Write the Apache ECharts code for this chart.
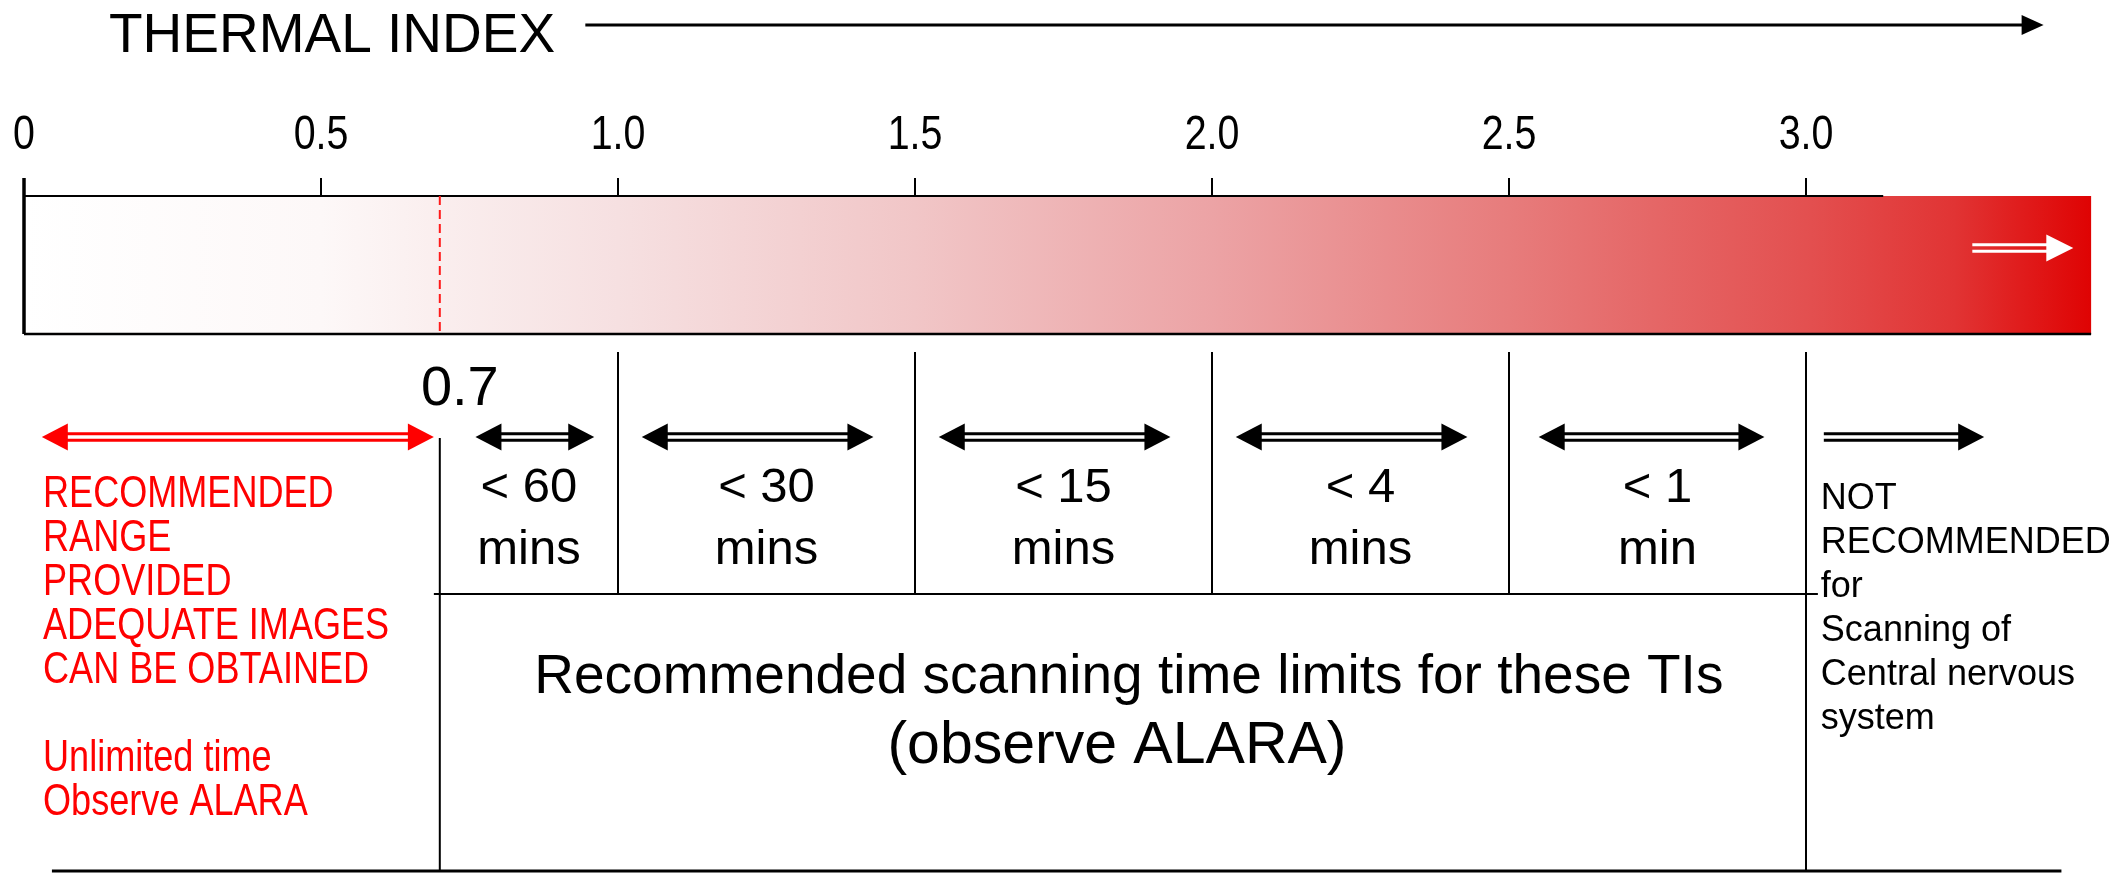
<!DOCTYPE html>
<html><head><meta charset="utf-8">
<script src="https://cdn.jsdelivr.net/npm/echarts@6/dist/echarts.min.js"></script>
<style>html,body{margin:0;padding:0;background:#fff}#c{width:2127px;height:873px}</style>
</head><body><div id="c"></div>
<script>
// ---------------- data ----------------
const titleText = 'THERMAL INDEX';
const tiTicks = [0, 0.5, 1.0, 1.5, 2.0, 2.5, 3.0];
const scaleEnd = 3.48;            // right end of the TI colour bar
const topBorderEnd = 3.13;        // where the bar's top border stops
const limitTI = 0.7;              // end of the recommended range
const bandEdges = [0.7, 1.0, 1.5, 2.0, 2.5, 3.0];
const timeLimits = ['< 60\nmins', '< 30\nmins', '< 15\nmins', '< 4\nmins', '< 1\nmin'];
const limitArrowStart = [0.76, 1.04, 1.54, 2.04, 2.55];
const limitArrowEnd = [0.96, 1.43, 1.93, 2.43, 2.93];
const recommendedArrow = [0.03, 0.69];
const beyondArrow = [3.03, 3.30];
const barArrow = [3.28, 3.45];
const titleArrow = [0.945, 3.40];
const gradientTI = [0, 0.5, 0.7, 1.0, 1.5, 2.0, 2.5, 3.0, 3.25, 3.48];
const gradientColors = ['#ffffff', '#fdf8f8', '#faeeee', '#f6e0e1', '#f1c6c7', '#eca3a5', '#e77c7c', '#e35050', '#e13434', '#df0303'];
const leftText = 'RECOMMENDED\nRANGE\nPROVIDED\nADEQUATE IMAGES\nCAN BE OBTAINED\n\nUnlimited time\nObserve ALARA';
const rightText = 'NOT\nRECOMMENDED\nfor\nScanning of\nCentral nervous\nsystem';
const centreText1 = 'Recommended scanning time limits for these TIs';
const centreText2 = '(observe ALARA)';
const midBandLine = [0.69, 3.02];
const bottomLineSpan = [0.047, 3.43];

// ---------------- layout (pixels) ----------------
const REG = '"Liberation Sans", Arial, Helvetica, sans-serif';
function hasFont(name) {
  const c = document.createElement('canvas').getContext('2d');
  c.font = '48px monospace';
  const a = c.measureText('RECOMMENDED 0.5 mins').width;
  c.font = '48px "' + name + '", monospace';
  const b = c.measureText('RECOMMENDED 0.5 mins').width;
  return Math.abs(a - b) > 0.5;
}
const HAS_NARROW = hasFont('Liberation Sans Narrow');
const NARROW = HAS_NARROW ? '"Liberation Sans Narrow", "Arial Narrow", sans-serif' : REG;
const NARROW_SX = HAS_NARROW ? 1 : 0.82;

const Y = {
  barTop: 196, barBottom: 334, tickTop: 178,
  sepTop: 352, midLine: 594, bottomLine: 871, limitLineTop: 438,
  arrowY: 437, barArrowY: 248, titleArrowY: 25, tickLabel: 136,
  limitLabel: 390, durLabel: 519, centre1: 678, centre2: 747,
  leftBlock: 649, rightBlock: 609
};

const chart = echarts.init(document.getElementById('c'), null, {renderer: 'canvas'});

// segments: [x1, y1, x2, y2, style]
const segs = [];
const solid = (w) => ({stroke: '#000', lineWidth: w});
segs.push([0, Y.barTop, topBorderEnd, Y.barTop, solid(2)]);
segs.push([0, Y.barBottom, scaleEnd, Y.barBottom, solid(2.5)]);
segs.push([0, Y.tickTop, 0, Y.barBottom, solid(3.5)]);
segs.push([limitTI, Y.barTop, limitTI, Y.barBottom, {stroke: '#ff1a1a', lineWidth: 2, lineDash: [9, 5]}]);
bandEdges.forEach(function (e) {
  if (e === limitTI) segs.push([e, Y.limitLineTop, e, Y.bottomLine, solid(2)]);
  else if (e === 3.0) segs.push([e, Y.sepTop, e, Y.bottomLine, solid(2)]);
  else segs.push([e, Y.sepTop, e, Y.midLine, solid(2)]);
});
segs.push([midBandLine[0], Y.midLine, midBandLine[1], Y.midLine, solid(2)]);
segs.push([bottomLineSpan[0], Y.bottomLine, bottomLineSpan[1], Y.bottomLine, solid(3)]);

// arrows: [x1, x2, y, kind]
const arrows = [];
limitArrowStart.forEach(function (s, i) { arrows.push([s, limitArrowEnd[i], Y.arrowY, 'black2']); });
arrows.push([recommendedArrow[0], recommendedArrow[1], Y.arrowY, 'red2']);
arrows.push([beyondArrow[0], beyondArrow[1], Y.arrowY, 'black1']);
arrows.push([barArrow[0], barArrow[1], Y.barArrowY, 'white1']);
arrows.push([titleArrow[0], titleArrow[1], Y.titleArrowY, 'title']);
const arrowStyles = {
  black2: {color: '#000', both: true, double: true, headLen: 26, headHalf: 13.5},
  red2: {color: '#ff0000', both: true, double: true, headLen: 26, headHalf: 13.5},
  black1: {color: '#000', both: false, double: true, headLen: 26, headHalf: 13.5},
  white1: {color: '#ffffff', both: false, double: true, headLen: 27, headHalf: 13.5},
  title: {color: '#000', both: false, double: false, headLen: 22, headHalf: 10, width: 3}
};

// text items: [x(TI), y(px), text, fontSize, lineHeight, align, color, family, scaleX, dx]
const texts = [];
if (!HAS_NARROW) {
  tiTicks.forEach(function (t) {
    texts.push([t, Y.tickLabel, t === 0 ? '0' : t.toFixed(1), 48, 48, 'center', '#000', NARROW, NARROW_SX, 0]);
  });
}
texts.push([limitTI, Y.limitLabel, '0.7', 56, 56, 'center', '#000', REG, 1, 20]);
timeLimits.forEach(function (t, i) {
  const c = (bandEdges[i] + bandEdges[i + 1]) / 2;
  texts.push([c, Y.durLabel, t, 49, 62, 'center', '#000', REG, 1, 0]);
});
texts.push([1.86, Y.centre1, centreText1, 55, 55, 'center', '#000', REG, 1, 0]);
texts.push([1.84, Y.centre2, centreText2, 59, 59, 'center', '#000', REG, 1, 0]);
texts.push([0.032, Y.leftBlock, leftText, 44, 44, 'left', '#ff0000', NARROW, NARROW_SX, 0]);
texts.push([3.025, Y.rightBlock, rightText, 36, 44, 'left', '#000', REG, 1, 0]);

const stops = gradientTI.map(function (t, i) { return {offset: t / scaleEnd, color: gradientColors[i]}; });

chart.setOption({
  animation: false,
  backgroundColor: '#ffffff',
  title: {
    text: titleText, left: 104, top: 4,
    textStyle: {fontSize: 55, fontWeight: 'normal', color: '#000', fontFamily: REG}
  },
  grid: {left: 24, right: 24, top: 0, bottom: 0, containLabel: false},
  xAxis: {
    type: 'value', min: 0, max: 3.5, interval: 0.5, position: 'top', offset: -Y.barTop,
    axisLine: {show: false, onZero: false},
    splitLine: {show: false},
    axisTick: {show: true, inside: false, length: 18, customValues: tiTicks, lineStyle: {color: '#000', width: 2}},
    axisLabel: {
      show: HAS_NARROW, customValues: tiTicks, margin: 30, fontSize: 48, color: '#000', fontFamily: NARROW,
      formatter: function (v) { return v === 0 ? '0' : v.toFixed(1); }
    }
  },
  yAxis: {type: 'value', min: 0, max: 873, inverse: true, show: false},
  series: [
    {
      type: 'custom', name: 'bar', silent: true, z: 1,
      data: [[0, scaleEnd]],
      renderItem: function (params, api) {
        const p0 = api.coord([api.value(0), Y.barTop]);
        const p1 = api.coord([api.value(1), Y.barBottom]);
        return {type: 'rect', shape: {x: p0[0], y: p0[1], width: p1[0] - p0[0], height: p1[1] - p0[1]},
          style: {fill: new echarts.graphic.LinearGradient(0, 0, 1, 0, stops)}};
      }
    },
    {
      type: 'custom', name: 'lines', silent: true, z: 3,
      data: segs.map(function (s) { return s.slice(0, 4); }),
      renderItem: function (params, api) {
        const s = segs[params.dataIndex];
        const a = api.coord([s[0], s[1]]), b = api.coord([s[2], s[3]]);
        return {type: 'line', shape: {x1: a[0], y1: a[1], x2: b[0], y2: b[1]}, style: Object.assign({fill: null}, s[4])};
      }
    },
    {
      type: 'custom', name: 'arrows', silent: true, z: 4,
      data: arrows.map(function (a) { return a.slice(0, 3); }),
      renderItem: function (params, api) {
        const a = arrows[params.dataIndex];
        const st = arrowStyles[a[3]];
        const p0 = api.coord([a[0], a[2]]), p1 = api.coord([a[1], a[2]]);
        const y = p0[1];
        const x0 = p0[0], x1 = p1[0];
        const children = [];
        const sx0 = st.both ? x0 + st.headLen - 2 : x0;
        const sx1 = x1 - st.headLen + 2;
        if (st.double) {
          children.push({type: 'line', shape: {x1: sx0, y1: y - 3.2, x2: sx1, y2: y - 3.2}, style: {stroke: st.color, lineWidth: 3}});
          children.push({type: 'line', shape: {x1: sx0, y1: y + 3.2, x2: sx1, y2: y + 3.2}, style: {stroke: st.color, lineWidth: 3}});
        } else {
          children.push({type: 'line', shape: {x1: sx0, y1: y, x2: sx1, y2: y}, style: {stroke: st.color, lineWidth: st.width}});
        }
        children.push({type: 'polygon', shape: {points: [[x1, y], [x1 - st.headLen, y - st.headHalf], [x1 - st.headLen, y + st.headHalf]]}, style: {fill: st.color}});
        if (st.both) {
          children.push({type: 'polygon', shape: {points: [[x0, y], [x0 + st.headLen, y - st.headHalf], [x0 + st.headLen, y + st.headHalf]]}, style: {fill: st.color}});
        }
        return {type: 'group', children: children};
      }
    },
    {
      type: 'custom', name: 'texts', silent: true, z: 5,
      data: texts.map(function (t) { return [t[0], t[1]]; }),
      renderItem: function (params, api) {
        const t = texts[params.dataIndex];
        const p = api.coord([t[0], t[1]]);
        return {
          type: 'text', x: p[0] + t[9], y: p[1], scaleX: t[8], scaleY: 1,
          style: {text: t[2], x: 0, y: 0, fontSize: t[3], lineHeight: t[4], align: t[5], verticalAlign: 'middle',
            fill: t[6], fontFamily: t[7]}
        };
      }
    }
  ]
});
</script>
</body></html>
